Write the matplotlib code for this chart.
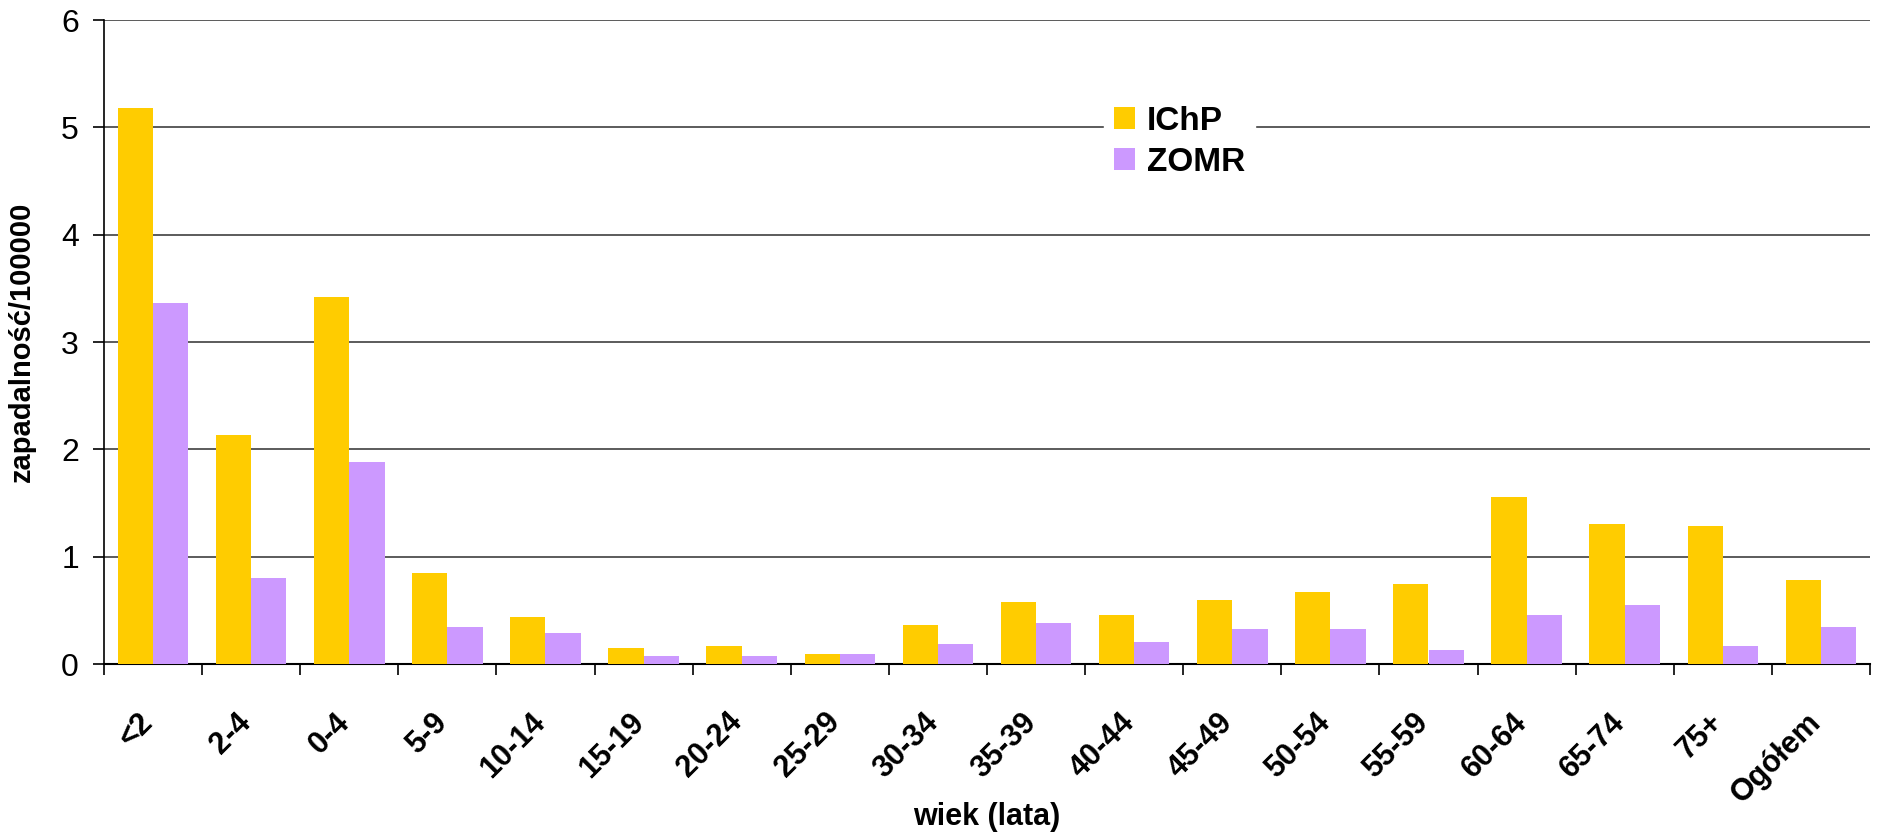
import matplotlib
matplotlib.use("Agg")
import matplotlib.pyplot as plt
from matplotlib.transforms import ScaledTranslation
import numpy as np

categories = ["<2", "2-4", "0-4", "5-9", "10-14", "15-19", "20-24", "25-29", "30-34",
              "35-39", "40-44", "45-49", "50-54", "55-59", "60-64", "65-74", "75+", "Ogółem"]
ichp = [5.18, 2.13, 3.42, 0.85, 0.44, 0.15, 0.17, 0.09, 0.36,
        0.58, 0.46, 0.60, 0.67, 0.745, 1.56, 1.30, 1.29, 0.78]
zomr = [3.36, 0.80, 1.88, 0.345, 0.29, 0.075, 0.075, 0.093, 0.19,
        0.38, 0.205, 0.33, 0.33, 0.13, 0.46, 0.55, 0.17, 0.345]
series_names = ["IChP", "ZOMR"]
yticks = [0, 1, 2, 3, 4, 5, 6]

plt.rcParams['font.family'] = ['Liberation Sans', 'DejaVu Sans']

fig = plt.figure(figsize=(18.77, 8.36), dpi=100)
ax = fig.add_axes([104/1877, 1-664/836, (1870-104)/1877, (664-20)/836])

x = np.arange(len(categories))
w = 0.36
ax.bar(x - w/2, ichp, width=w, color="#FFCC00", label=series_names[0], zorder=3)
ax.bar(x + w/2, zomr, width=w, color="#CC99FF", label=series_names[1], zorder=3)

ax.set_xlim(-0.5, len(categories) - 0.5)
ax.set_ylim(0, 6)
ax.set_yticks(yticks)
ax.set_yticklabels([str(t) for t in yticks], fontsize=23)
ax.yaxis.grid(True, color="#404040", linewidth=1.2, zorder=0)
ax.set_axisbelow(True)

for s in ["top", "right"]:
    ax.spines[s].set_visible(False)
ax.spines["left"].set_color("#000000")
ax.spines["bottom"].set_color("#000000")
ax.spines["left"].set_linewidth(1.2)
ax.spines["bottom"].set_linewidth(1.5)

ax.tick_params(axis="y", direction="out", length=8, width=1.2, pad=10)
ax.set_xticks(np.arange(-0.5, len(categories), 1.0))
ax.set_xticklabels([])
ax.tick_params(axis="x", direction="out", length=8, width=1.2)
ax.set_xticks(x, minor=True)
ax.set_xticklabels(categories, minor=True, rotation=45, ha="right", va="top",
                   rotation_mode="anchor", fontsize=22, fontweight="bold")
ax.tick_params(axis="x", which="minor", length=0, pad=31)
off = ScaledTranslation(-15/100, 0, fig.dpi_scale_trans)
for lab in ax.get_xticklabels(minor=True):
    lab.set_transform(lab.get_transform() + off)

ax.set_ylabel("zapadalność/100000", fontsize=21, fontweight="bold")
ax.yaxis.set_label_coords((36-104)/(1870-104), 0.5)
ax.set_xlabel("wiek (lata)", fontsize=22, fontweight="bold")
ax.xaxis.set_label_coords(0.5, -(802-664)/644)

ax.legend(loc="upper left", bbox_to_anchor=((1087-104)/(1870-104), (664-79)/644),
          frameon=True, fancybox=False, edgecolor="white", facecolor="white",
          framealpha=1, prop={"size": 24, "weight": "bold"},
          handlelength=0.65, handleheight=0.65, handletextpad=0.35, labelspacing=0.3,
          borderpad=0.3)

fig.savefig("out.png", dpi=100, facecolor="white")
